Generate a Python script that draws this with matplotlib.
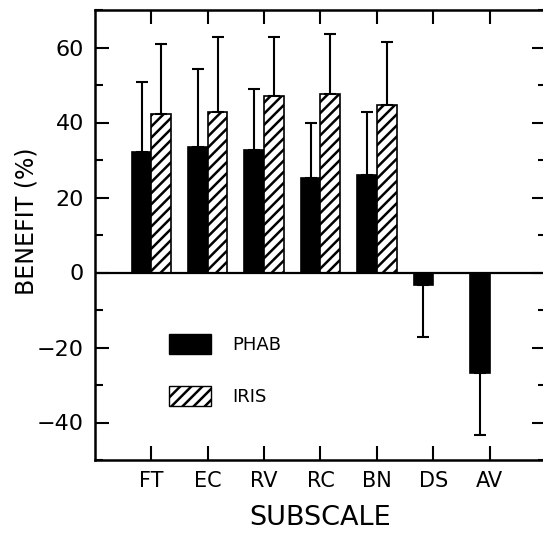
import matplotlib
matplotlib.use("Agg")
import matplotlib.pyplot as plt
import numpy as np
from matplotlib.ticker import MultipleLocator
from matplotlib.patches import Patch

plt.rcParams['font.family'] = ['DejaVu Sans']
plt.rcParams['hatch.linewidth'] = 1.8

categories = ["FT", "EC", "RV", "RC", "BN", "DS", "AV"]
phab_mean = [32.1, 33.5, 32.6, 25.3, 25.9, -3.2, -26.9]
phab_sd = [18.6, 20.7, 16.3, 14.6, 17.0, 14.1, 16.3]
iris_mean = [42.2, 42.8, 47.2, 47.5, 44.6]
iris_sd = [18.8, 20.0, 15.6, 16.2, 16.9]
yticks = [-40, -20, 0, 20, 40, 60]

fig = plt.figure(figsize=(5.43, 5.33), dpi=100)
ax = fig.add_axes([95/543, 73/533, 451/543, 450/533])

w = 0.35
x_phab = np.arange(1, len(phab_mean) + 1) - w/2
x_iris = np.arange(1, len(iris_mean) + 1) + w/2

def one_sided(mean, sd):
    mean = np.asarray(mean); sd = np.asarray(sd)
    lower = np.where(mean < 0, sd, 0)
    upper = np.where(mean >= 0, sd, 0)
    return [lower, upper]

ekw = dict(elinewidth=1.5, capthick=1.5, capsize=4.5, ecolor='black')
ax.bar(x_phab, phab_mean, width=w, color='black', edgecolor='black', linewidth=1.2,
       yerr=one_sided(phab_mean, phab_sd), error_kw=ekw, zorder=2)
ax.bar(x_iris, iris_mean, width=w, color='white', edgecolor='black', linewidth=1.2,
       hatch='///', yerr=one_sided(iris_mean, iris_sd), error_kw=ekw, zorder=2)

ax.axhline(0, color='black', lw=1.6, zorder=3)

ax.set_xlim(0, 8)
ax.set_ylim(-50, 70)
ax.set_xticks(np.arange(1, len(categories) + 1))
ax.set_xticklabels(categories, fontsize=15)
ax.set_yticks(yticks)
ax.set_yticklabels([f"{v}".replace('-', '\u2212') for v in yticks], fontsize=16)
ax.yaxis.set_minor_locator(MultipleLocator(10))

ax.tick_params(axis='both', which='major', direction='in', length=10, width=1.5,
               top=True, right=True)
ax.tick_params(axis='y', which='major', pad=8)
ax.tick_params(axis='x', which='major', pad=8)
ax.tick_params(axis='y', which='minor', direction='in', length=5.5, width=1.5,
               left=True, right=True)
for s in ax.spines.values():
    s.set_linewidth(1.8)

ax.set_xlabel("SUBSCALE", fontsize=19.5)
ax.set_ylabel("BENEFIT (%)", fontsize=17)
ax.xaxis.set_label_coords(0.5, -0.1)
ax.yaxis.set_label_coords(-0.125, 0.53)

handles = [Patch(facecolor='black', edgecolor='black', label='PHAB'),
           Patch(facecolor='white', edgecolor='black', hatch='///', label='IRIS')]
ax.legend(handles=handles, loc='upper left', bbox_to_anchor=(0.165, 0.28),
          frameon=False, fontsize=13, handlelength=2.3, handleheight=1.35,
          handletextpad=1.2, labelspacing=1.75, borderpad=0, borderaxespad=0)

fig.savefig("out.png", dpi=100)
